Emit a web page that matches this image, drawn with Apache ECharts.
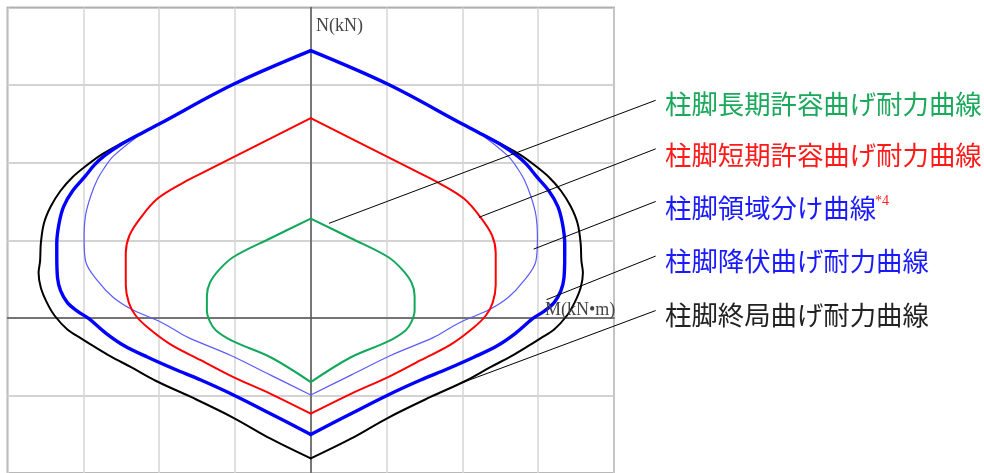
<!DOCTYPE html>
<html>
<head>
<meta charset="utf-8">
<script src="https://cdn.jsdelivr.net/npm/echarts@6/dist/echarts.min.js"></script>
<style>html,body{margin:0;padding:0;background:#fff;}#c{width:984px;height:473px;}</style>
</head>
<body>
<div id="c"></div>
<script>
// M (kN·m) , N (kN) points of each closed interaction curve (right half top->bottom, then left half bottom->top)
const ultimateCurve = [
  [0,1722],[102,1505],[200,1249],[220,1198],[251,1121],[277,1049],[295,985],[314,908],[330,819],[343,717],[352,608],[356,481],[357,367],[359,290],[356,194],[348,98],[338,15],[321,-75],[303,-132],[286,-184],[264,-248],[237,-318],[204,-407],[158,-510],[102,-644],[53,-779],[0,-906],
  [-53,-779],[-102,-644],[-158,-510],[-204,-407],[-237,-318],[-264,-248],[-286,-184],[-303,-132],[-321,-75],[-338,15],[-348,98],[-356,194],[-359,290],[-357,367],[-356,481],[-352,608],[-343,717],[-330,819],[-314,908],[-295,985],[-277,1049],[-251,1121],[-220,1198],[-200,1249],[-102,1505],[0,1722]
];
const yieldCurve = [
  [0,1722],[102,1505],[200,1249],[220,1198],[251,1115],[272,1045],[285,987],[298,910],[314,819],[326,717],[332,608],[335,481],[335,398],[334,258],[330,175],[321,98],[307,40],[293,-4],[270,-100],[246,-180],[215,-254],[180,-330],[145,-401],[102,-497],[53,-618],[0,-752],
  [-53,-618],[-102,-497],[-145,-401],[-180,-330],[-215,-254],[-246,-180],[-270,-100],[-293,-4],[-307,40],[-321,98],[-330,175],[-334,258],[-335,398],[-335,481],[-332,608],[-326,717],[-314,819],[-298,910],[-285,987],[-272,1045],[-251,1115],[-220,1198],[-200,1249],[-102,1505],[0,1722]
];
const regionCurve = [
  [0,1722],[102,1505],[200,1249],[220,1198],[260,1044],[273,961],[281,896],[290,788],[297,661],[299,513],[297,366],[281,238],[260,130],[233,47],[202,-17],[185,-62],[162,-126],[106,-241],[53,-369],[0,-497],
  [-53,-369],[-106,-241],[-162,-126],[-185,-62],[-202,-17],[-233,47],[-260,130],[-281,238],[-297,366],[-299,513],[-297,661],[-290,788],[-281,896],[-273,961],[-260,1044],[-220,1198],[-200,1249],[-102,1505],[0,1722]
];
const shortTermCurve = [
  [0,1287],[132,961],[168,872],[202,769],[224,648],[239,533],[244,418],[244,213],[240,98],[231,15],[215,-62],[185,-171],[145,-273],[102,-382],[53,-490],[0,-618],
  [-53,-490],[-102,-382],[-145,-273],[-185,-171],[-215,-62],[-231,15],[-240,98],[-244,213],[-244,418],[-239,533],[-224,648],[-202,769],[-168,872],[-132,961],[0,1287]
];
const longTermCurve = [
  [0,640],[53,513],[102,392],[121,309],[133,226],[137,143],[137,47],[133,-24],[125,-81],[102,-152],[53,-254],[0,-414],
  [-53,-254],[-102,-152],[-125,-81],[-133,-24],[-137,47],[-137,143],[-133,226],[-121,309],[-102,392],[-53,513],[0,640]
];
// leader lines: [label end, curve end] in (M, N)
const leaderLines = [
  [[455,1402],[24,609]],
  [[455,1089],[222,648]],
  [[455,750],[294,443]],
  [[455,398],[311,117]],
  [[455,47],[202,-414]]
];
const labelTexts = ['柱脚長期許容曲げ耐力曲線','柱脚短期許容曲げ耐力曲線','柱脚領域分け曲線','柱脚降伏曲げ耐力曲線','柱脚終局曲げ耐力曲線'];
const noteMark = '*4';
const axisNameN = 'N(kN)';
const axisNameM = 'M(kN•m)';

const chart = echarts.init(document.getElementById('c'), null, {renderer:'canvas'});
const labelColors = ['#1aa85a','#ff1a1a','#1a1aff','#1a1aff','#222222'];
const labelY = [104,155,208,261,315];

const series = [];
function addCurve(data, color, width, z) {
  const b = data.findIndex((p, i) => i > 0 && p[0] === 0);
  [data.slice(0, b + 1), data.slice(b)].forEach(part => series.push({
    type:'line', data:part, showSymbol:false, symbol:'none', smooth:0.35, z,
    lineStyle:{color, width, join:'round', cap:'round'}, silent:true, animation:false
  }));
}
addCurve(ultimateCurve,'#000000',2,3);
addCurve(regionCurve,'#5a5aff',1.2,4);
addCurve(yieldCurve,'#0000ff',3.4,5);
addCurve(shortTermCurve,'#ff0000',2,6);
addCurve(longTermCurve,'#12a85a',2,7);

const baseGraphics = [];
labelTexts.forEach((t,i) => baseGraphics.push({
  type:'text', x:665, y:labelY[i], z:20,
  style:{text:t, fill:labelColors[i], font:'26.4px "Noto Sans CJK JP"', verticalAlign:'middle', align:'left'}
}));
baseGraphics.push({type:'text', x:875, y:201, z:20, style:{text:noteMark, fill:'#ff2020', font:'14px "Liberation Serif"', verticalAlign:'middle'}});
baseGraphics.push({type:'text', x:316, y:26, z:20, style:{text:axisNameN, fill:'#444', font:'18px "Liberation Serif"', verticalAlign:'middle'}});
baseGraphics.push({type:'text', x:545, y:310, z:20, style:{text:axisNameM, fill:'#444', font:'18px "Liberation Serif"', verticalAlign:'middle'}});

chart.setOption({
  animation:false,
  backgroundColor:'#ffffff',
  grid:{left:7.5, top:7.5, width:606.5, height:469, show:true, borderColor:'#707070', borderWidth:1.5, backgroundColor:'transparent'},
  xAxis:{type:'value', min:-400, max:400, interval:100,
    axisLine:{show:true, onZero:true, lineStyle:{color:'#555', width:1.5}},
    axisTick:{show:false}, axisLabel:{show:false},
    splitLine:{show:true, lineStyle:{color:'#d6d6d6', width:1.5}}},
  yAxis:{type:'value', min:-1000, max:2000, interval:500,
    axisLine:{show:true, onZero:true, lineStyle:{color:'#555', width:1.5}},
    axisTick:{show:false}, axisLabel:{show:false},
    splitLine:{show:true, lineStyle:{color:'#c4c4c4', width:1.5}}},
  series,
  graphic:baseGraphics
});

// leader lines drawn through the chart's own scales
const leaderGraphics = leaderLines.map(l => {
  const a = chart.convertToPixel({gridIndex:0}, l[0]);
  const b = chart.convertToPixel({gridIndex:0}, l[1]);
  return {type:'line', z:15, silent:true, shape:{x1:a[0], y1:a[1], x2:b[0], y2:b[1]}, style:{stroke:'#000', lineWidth:1}};
});
chart.setOption({graphic: baseGraphics.concat(leaderGraphics)});
</script>
</body>
</html>
